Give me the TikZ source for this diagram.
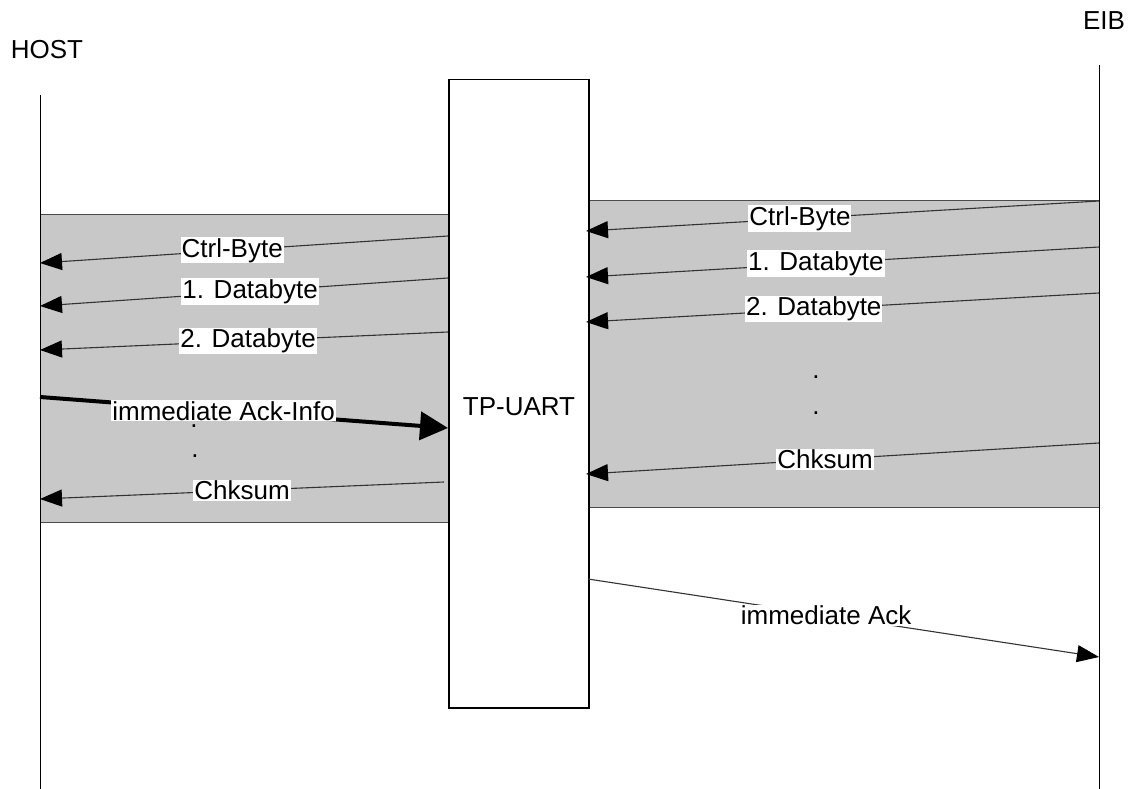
\documentclass[tikz,border=0pt]{standalone}
\usepackage{fontspec}
\setmainfont{Liberation Sans}
\usetikzlibrary{arrows.meta}
\begin{document}
\begin{tikzpicture}[x=1pt,y=-1pt,
  txt/.style={font=\fontsize{26}{31}\selectfont, inner sep=1pt},
  lbl/.style={txt, fill=white},
  shadebox/.style={fill={rgb,255:red,200;green,200;blue,200}, draw=black!70, line width=1pt},
  msg/.style={draw=black!80, line width=1.1pt, -{Triangle[length=22pt,width=17pt,color=black]}},
  bigmsg/.style={draw=black, line width=4pt, -{Triangle[length=28pt,width=28pt]}},
  life/.style={draw=black, line width=1pt}]
\useasboundingbox (0,0) rectangle (1130,789);

% shaded frames
\draw[shadebox] (40,214) rectangle (448,522);
\draw[shadebox] (588,200) rectangle (1099,507);

% lifelines
\coordinate (hostTop) at (40,95);
\coordinate (hostBot) at (40,789);
\coordinate (eibTop) at (1099,65);
\coordinate (eibBot) at (1099,789);
\draw[life] (hostTop) -- (hostBot);
\draw[life] (eibTop) -- (eibBot);

% titles
\node[txt] (host) at (47,50) {HOST};
\node[txt] (eib) at (1104,21) {EIB};

% TP-UART box
\node[draw, line width=1.5pt, fill=white, minimum width=140pt, minimum height=628pt,
      inner sep=0pt, anchor=north west] (uart) at (448,79) {};
\node[txt] (uartlbl) at (519,407) {TP-UART};

% left side messages (TP-UART -> HOST)
\coordinate (l1s) at (448,236); \coordinate (l1e) at (40,263);
\coordinate (l2s) at (448,278); \coordinate (l2e) at (40,306);
\coordinate (l3s) at (448,332); \coordinate (l3e) at (40,350);
\coordinate (l5s) at (444,482); \coordinate (l5e) at (40,499);
\draw[msg] (l1s) -- node[lbl,pos=0.529] (lc1) {Ctrl-Byte} (l1e);
\draw[msg] (l2s) -- node[lbl,pos=0.485] (lc2) {1. Databyte} (l2e);
\draw[msg] (l3s) -- node[lbl,pos=0.49] (lc3) {2. Databyte} (l3e);
\draw[msg] (l5s) -- node[lbl,pos=0.5] (lc5) {Chksum} (l5e);

% dots on the left
\node[txt, anchor=base, inner sep=0pt] (ld1) at (194,427) {.};
\node[txt, anchor=base, inner sep=0pt] (ld2) at (195,457) {.};

% immediate Ack-Info (HOST -> TP-UART)
\coordinate (aks) at (40,397); \coordinate (ake) at (448,428);
\draw[bigmsg] (aks) -- node[lbl,pos=0.45] (lack) {immediate Ack-Info} (ake);

% right side messages (EIB -> TP-UART)
\coordinate (r1s) at (1099,201); \coordinate (r1e) at (586,231);
\coordinate (r2s) at (1099,247); \coordinate (r2e) at (586,277);
\coordinate (r3s) at (1099,293); \coordinate (r3e) at (586,322);
\coordinate (r5s) at (1099,443); \coordinate (r5e) at (586,474);
\draw[msg] (r1s) -- node[lbl,pos=0.583] (rc1) {Ctrl-Byte} (r1e);
\draw[msg] (r2s) -- node[lbl,pos=0.552] (rc2) {1. Databyte} (r2e);
\draw[msg] (r3s) -- node[lbl,pos=0.556] (rc3) {2. Databyte} (r3e);
\draw[msg] (r5s) -- node[lbl,pos=0.534] (rc5) {Chksum} (r5e);
\node[txt, anchor=base, inner sep=0pt] (rd1) at (816,378) {.};
\node[txt, anchor=base, inner sep=0pt] (rd2) at (816,414) {.};

% immediate Ack (TP-UART -> EIB)
\coordinate (ias) at (588,579); \coordinate (iae) at (1099,657);
\draw[msg] (ias) -- node[lbl,pos=0.466] (iack) {immediate Ack} (iae);
\end{tikzpicture}
\end{document}
